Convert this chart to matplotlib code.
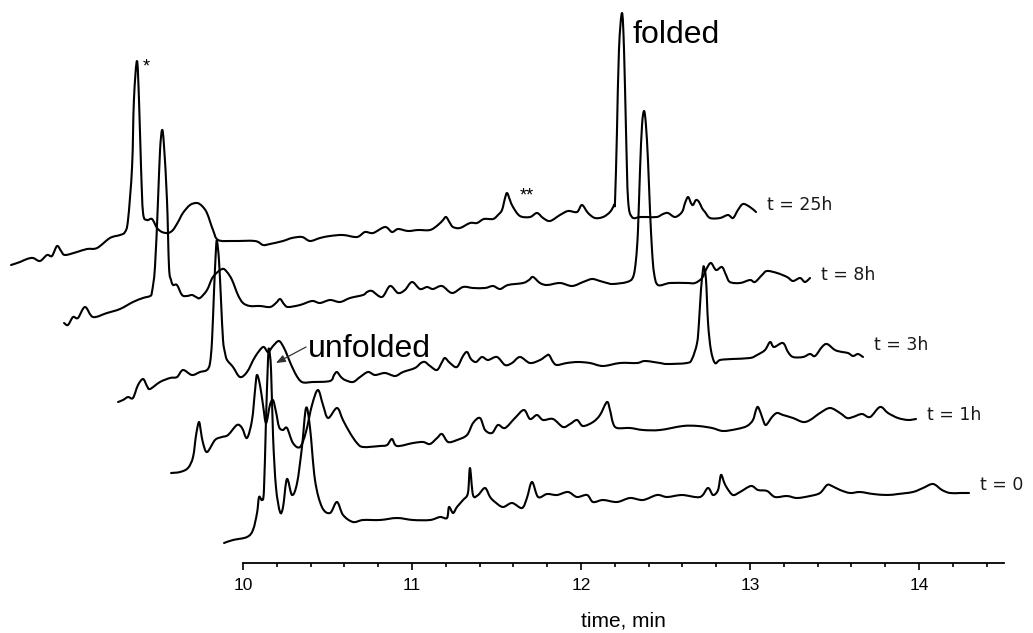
import numpy as np
import matplotlib.pyplot as plt
from matplotlib.ticker import FixedLocator
from matplotlib.path import Path
from matplotlib.patches import PathPatch

plt.rcParams['font.family'] = ['Liberation Sans', 'DejaVu Sans']

# refolding time points, bottom to top
labels = ['t = 0', 't = 1h', 't = 3h', 't = 8h', 't = 25h']

# retention time (min) and detector signal (a.u.) for each run
time_0h = [9.888, 9.941, 10.024, 10.059, 10.083, 10.095, 10.112, 10.124, 10.136, 10.148,
           10.154, 10.166, 10.178, 10.195, 10.219, 10.237, 10.260, 10.290, 10.320, 10.349,
           10.373, 10.396, 10.426, 10.467, 10.515, 10.556, 10.592, 10.651, 10.710, 10.811,
           10.911, 11.006, 11.107, 11.166, 11.207, 11.219, 11.243, 11.266, 11.302, 11.331,
           11.343, 11.361, 11.391, 11.432, 11.462, 11.491, 11.538, 11.592, 11.651, 11.680,
           11.710, 11.746, 11.799, 11.858, 11.923, 11.976, 12.036, 12.071, 12.130, 12.213,
           12.290, 12.367, 12.450, 12.509, 12.598, 12.704, 12.751, 12.781, 12.811, 12.828,
           12.846, 12.864, 12.899, 12.941, 13.006, 13.047, 13.101, 13.148, 13.219, 13.278,
           13.355, 13.414, 13.456, 13.485, 13.533, 13.592, 13.651, 13.728, 13.811, 13.876,
           13.964, 14.024, 14.083, 14.136, 14.183, 14.243, 14.296]
abs_0h = [2, 5, 8, 15, 32, 48, 45, 55, 125, 185,
          196, 175, 108, 58, 33, 38, 66, 50, 62, 98,
          137, 118, 65, 38, 32, 43, 30, 23, 25, 25,
          27, 25, 25, 28, 27, 38, 32, 38, 45, 52,
          77, 50, 50, 57, 48, 43, 38, 42, 37, 47,
          63, 48, 51, 50, 53, 48, 50, 43, 45, 43,
          47, 45, 50, 48, 50, 48, 57, 50, 55, 70,
          63, 57, 50, 53, 59, 55, 54, 48, 49, 47,
          49, 52, 60, 59, 55, 52, 53, 51, 50, 51,
          53, 57, 61, 55, 52, 52, 52]

time_1h = [9.888, 9.941, 9.988, 10.018, 10.036, 10.053, 10.065, 10.077, 10.101, 10.148,
           10.189, 10.225, 10.278, 10.308, 10.337, 10.367, 10.385, 10.396, 10.414, 10.432,
           10.450, 10.473, 10.491, 10.509, 10.527, 10.550, 10.574, 10.609, 10.651, 10.686,
           10.722, 10.757, 10.787, 10.817, 10.870, 10.905, 10.947, 10.988, 11.024, 11.124,
           11.166, 11.195, 11.225, 11.320, 11.379, 11.420, 11.462, 11.491, 11.527, 11.580,
           11.639, 11.675, 11.716, 11.746, 11.787, 11.822, 11.864, 11.923, 11.976, 12.012,
           12.053, 12.089, 12.148, 12.207, 12.249, 12.290, 12.325, 12.385, 12.426, 12.467,
           12.485, 12.503, 12.527, 12.604, 12.680, 12.781, 12.917, 13.006, 13.089, 13.154,
           13.237, 13.296, 13.331, 13.349, 13.361, 13.379, 13.391, 13.408, 13.444, 13.473,
           13.509, 13.568, 13.627, 13.669, 13.728, 13.787, 13.846, 13.888, 13.923, 13.976,
           14.024, 14.083, 14.130, 14.189, 14.249, 14.296]
abs_1h = [2, 3, 7, 18, 40, 53, 43, 32, 23, 35,
          38, 40, 50, 47, 37, 55, 85, 100, 90, 70,
          52, 70, 75, 63, 48, 45, 47, 32, 28, 43,
          70, 85, 70, 57, 67, 55, 42, 32, 28, 29,
          30, 36, 29, 32, 33, 31, 37, 41, 33, 35,
          40, 52, 57, 45, 42, 50, 47, 57, 65, 56,
          60, 55, 56, 48, 51, 55, 49, 53, 60, 73,
          65, 52, 47, 47, 45, 45, 49, 49, 47, 44,
          46, 49, 55, 65, 68, 61, 55, 50, 58, 62,
          60, 57, 53, 55, 62, 67, 62, 57, 58, 61,
          58, 68, 62, 57, 55, 56]

time_3h = [9.888, 9.917, 9.947, 9.976, 10.006, 10.036, 10.059, 10.077, 10.136, 10.195,
           10.237, 10.272, 10.325, 10.373, 10.414, 10.432, 10.444, 10.456, 10.467, 10.473,
           10.485, 10.497, 10.509, 10.521, 10.533, 10.568, 10.609, 10.651, 10.698, 10.746,
           10.775, 10.805, 10.840, 10.870, 10.893, 10.935, 10.976, 11.041, 11.142, 11.166,
           11.183, 11.207, 11.231, 11.278, 11.320, 11.367, 11.408, 11.467, 11.527, 11.574,
           11.645, 11.680, 11.704, 11.734, 11.775, 11.805, 11.822, 11.852, 11.893, 11.929,
           11.953, 11.976, 12.006, 12.041, 12.077, 12.130, 12.178, 12.219, 12.266, 12.325,
           12.385, 12.420, 12.438, 12.462, 12.485, 12.544, 12.609, 12.680, 12.757, 12.858,
           12.959, 13.006, 13.095, 13.136, 13.254, 13.284, 13.314, 13.325, 13.337, 13.349,
           13.355, 13.367, 13.379, 13.396, 13.420, 13.450, 13.521, 13.627, 13.669, 13.716,
           13.746, 13.769, 13.822, 13.852, 13.882, 13.941, 13.982, 14.012, 14.053, 14.083,
           14.130, 14.172, 14.207, 14.237, 14.266, 14.296]
abs_3h = [3, 5, 8, 7, 20, 26, 19, 16, 23, 27,
          28, 35, 30, 33, 35, 42, 65, 115, 155, 164,
          145, 105, 65, 52, 45, 38, 28, 33, 48, 58,
          53, 59, 64, 57, 48, 32, 23, 23, 24, 30,
          33, 28, 25, 23, 28, 33, 30, 32, 29, 33,
          37, 42, 43, 39, 35, 43, 47, 42, 38, 49,
          53, 46, 43, 48, 45, 48, 40, 42, 48, 42,
          45, 49, 50, 43, 40, 42, 43, 42, 39, 42,
          42, 44, 42, 41, 42, 46, 62, 82, 115, 135,
          138, 125, 82, 55, 42, 45, 46, 47, 50, 55,
          63, 58, 62, 53, 48, 48, 51, 49, 58, 61,
          55, 53, 52, 49, 51, 48]

time_8h = [9.882, 9.905, 9.935, 9.964, 10.006, 10.053, 10.136, 10.213, 10.290, 10.349,
           10.391, 10.402, 10.420, 10.438, 10.450, 10.462, 10.473, 10.491, 10.503, 10.515,
           10.527, 10.550, 10.580, 10.609, 10.639, 10.663, 10.686, 10.728, 10.763, 10.817,
           10.846, 10.876, 10.911, 10.941, 10.982, 11.041, 11.101, 11.136, 11.160, 11.183,
           11.207, 11.278, 11.349, 11.396, 11.456, 11.515, 11.574, 11.651, 11.675, 11.704,
           11.763, 11.811, 11.858, 11.899, 11.941, 11.988, 12.030, 12.065, 12.118, 12.178,
           12.243, 12.302, 12.373, 12.420, 12.462, 12.509, 12.598, 12.633, 12.657, 12.698,
           12.740, 12.817, 12.888, 12.953, 13.006, 13.053, 13.095, 13.130, 13.213, 13.249,
           13.266, 13.278, 13.290, 13.302, 13.314, 13.325, 13.337, 13.349, 13.361, 13.373,
           13.396, 13.467, 13.568, 13.615, 13.657, 13.686, 13.710, 13.740, 13.775, 13.799,
           13.822, 13.882, 13.941, 13.970, 14.012, 14.041, 14.101, 14.160, 14.195, 14.237,
           14.266, 14.296]
abs_8h = [12, 10, 18, 17, 28, 18, 22, 26, 33, 37,
          39, 43, 68, 135, 185, 205, 190, 135, 68, 55,
          50, 50, 40, 39, 40, 38, 37, 45, 58, 66,
          63, 55, 40, 32, 29, 29, 28, 32, 36, 31,
          28, 30, 34, 32, 35, 33, 37, 40, 43, 44,
          38, 49, 42, 45, 53, 46, 48, 46, 49, 42,
          48, 47, 47, 49, 46, 50, 52, 55, 58, 52,
          50, 52, 49, 53, 56, 54, 52, 51, 53, 58,
          75, 105, 165, 210, 224, 210, 175, 125, 85, 62,
          50, 52, 52, 52, 57, 67, 72, 65, 68, 60,
          53, 52, 55, 53, 60, 64, 62, 58, 54, 57,
          53, 57]

time_25h = [9.882, 9.935, 9.976, 10.012, 10.053, 10.095, 10.124, 10.154, 10.178, 10.201,
            10.272, 10.331, 10.391, 10.467, 10.527, 10.556, 10.574, 10.598, 10.609, 10.627,
            10.639, 10.651, 10.663, 10.686, 10.716, 10.746, 10.775, 10.811, 10.840, 10.870,
            10.899, 10.941, 10.982, 11.012, 11.041, 11.077, 11.107, 11.195, 11.325, 11.373,
            11.414, 11.491, 11.544, 11.604, 11.651, 11.710, 11.769, 11.846, 11.929, 11.976,
            12.024, 12.095, 12.136, 12.172, 12.231, 12.290, 12.361, 12.408, 12.438, 12.456,
            12.479, 12.497, 12.538, 12.598, 12.639, 12.680, 12.734, 12.763, 12.787, 12.805,
            12.817, 12.834, 12.852, 12.893, 12.953, 12.994, 13.030, 13.071, 13.130, 13.178,
            13.231, 13.260, 13.296, 13.337, 13.385, 13.426, 13.450, 13.456, 13.467, 13.479,
            13.497, 13.509, 13.521, 13.533, 13.556, 13.604, 13.645, 13.704, 13.740, 13.769,
            13.811, 13.852, 13.870, 13.888, 13.905, 13.917, 13.935, 13.953, 13.970, 13.988,
            14.018, 14.077, 14.124, 14.154, 14.183, 14.213, 14.254, 14.290]
abs_25h = [0, 3, 6, 7, 4, 10, 9, 19, 14, 10,
           13, 16, 17, 27, 30, 33, 45, 98, 165, 204,
           165, 98, 52, 45, 46, 37, 33, 32, 35, 43,
           52, 60, 62, 59, 52, 35, 25, 24, 24, 20,
           21, 24, 27, 28, 24, 27, 29, 30, 28, 33,
           32, 38, 33, 36, 34, 35, 35, 40, 45, 48,
           42, 38, 37, 42, 42, 46, 46, 50, 55, 67,
           72, 65, 58, 49, 48, 52, 47, 44, 50, 54,
           53, 60, 52, 47, 48, 53, 60, 65, 132, 215,
           252, 215, 132, 65, 48, 48, 48, 48, 51, 52,
           48, 53, 62, 68, 62, 60, 65, 63, 57, 53,
           47, 47, 50, 47, 55, 61, 58, 53]

runs = [(time_0h, abs_0h), (time_1h, abs_1h), (time_3h, abs_3h),
        (time_8h, abs_8h), (time_25h, abs_25h)]

# waterfall offsets between successive runs
dx = 0.3136
dy = 70


def smooth_path(x, y):
    # cubic Bezier through every point (Catmull-Rom tangents), like Origin's spline line
    p = np.column_stack([x, y])
    ext = np.vstack([p[0], p, p[-1]])
    verts = [p[0]]
    codes = [Path.MOVETO]
    for i in range(len(p) - 1):
        c1 = p[i] + (ext[i + 2] - ext[i]) / 6
        c2 = p[i + 1] - (ext[i + 3] - ext[i + 1]) / 6
        verts += [c1, c2, p[i + 1]]
        codes += [Path.CURVE4] * 3
    return Path(verts, codes)


fig = plt.figure(figsize=(10.33, 6.33), dpi=100)
ax = fig.add_axes([0, 70 / 633, 1, 563 / 633])

for k, (t, a) in enumerate(runs):
    x = np.array(t) - k * dx
    y = np.array(a) + k * dy
    ax.add_patch(PathPatch(smooth_path(x, y), facecolor='none', edgecolor='black',
                           lw=1.5, joinstyle='round', capstyle='round'))
    ax.text(x[-1] + 0.065, k * dy + 60, labels[k], family='DejaVu Sans',
            fontsize=12.5, color='#1a1a1a', ha='left', va='center')

ax.text(12.302, 502, 'folded', fontsize=23, ha='left', va='baseline')
ax.text(10.385, 188, 'unfolded', fontsize=23, ha='left', va='baseline')
ax.annotate('', xy=(10.195, 182), xytext=(10.373, 198),
            arrowprops=dict(arrowstyle='-|>,head_length=0.55,head_width=0.22',
                            color='#333333', lw=0.9, shrinkA=0, shrinkB=0))
ax.text(9.426, 478, '*', fontsize=13, ha='center', va='center')
ax.text(11.680, 349, '**', fontsize=13, ha='center', va='center')

ax.set_xlim(10 - 243 / 169, 10 + 790 / 169)
ax.set_ylim(-18, 545)
for side in ['left', 'top', 'right']:
    ax.spines[side].set_visible(False)
ax.spines['bottom'].set_bounds(10, 14.5)
ax.spines['bottom'].set_linewidth(1.3)
ax.set_yticks([])
ax.set_xticks([10, 11, 12, 13, 14])
minor = [m for m in np.round(np.arange(10.2, 14.41, 0.2), 1) if m % 1 != 0]
ax.xaxis.set_minor_locator(FixedLocator(minor))
ax.tick_params(axis='x', which='major', length=5, width=1.2, labelsize=12.5, pad=6)
ax.tick_params(axis='x', which='minor', length=3, width=1.2)
ax.set_xlabel('time, min', fontsize=15, labelpad=13, x=623 / 1033)
ax.patch.set_alpha(0)

fig.savefig('out.png', dpi=100)
